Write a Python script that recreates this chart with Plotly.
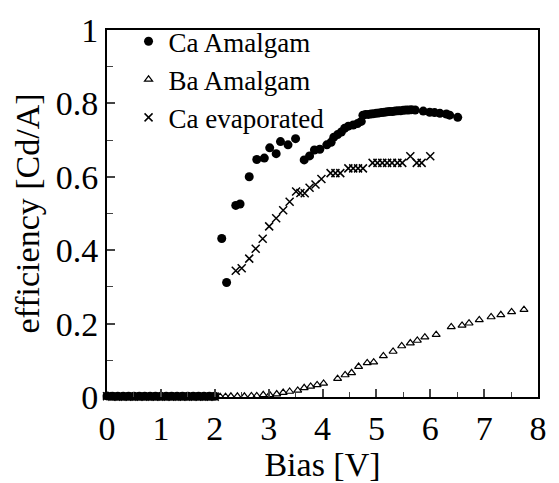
import plotly.graph_objects as go

# ---- data ----
ca_amalgam_x = [0.0, 0.1, 0.2, 0.3, 0.4, 0.5, 0.6, 0.7, 0.8, 0.9, 1.0, 1.1, 1.2, 1.3, 1.4, 1.5,
                1.6, 1.7, 1.8, 1.9, 2.0,
                2.13, 2.22, 2.39, 2.47, 2.64, 2.78, 2.92, 3.02, 3.14, 3.22, 3.36, 3.50,
                3.66, 3.76, 3.85, 3.95, 4.08, 4.16, 4.21, 4.28, 4.35, 4.41, 4.48, 4.57,
                4.65, 4.72, 4.75, 4.80, 4.85, 4.90, 4.95, 5.00, 5.05, 5.10, 5.15, 5.20,
                5.25, 5.30, 5.35, 5.40, 5.45, 5.50, 5.55, 5.60, 5.65, 5.72, 5.87, 5.99,
                6.08, 6.18, 6.30, 6.36, 6.51]
ca_amalgam_y = [0.003, 0.002, 0.002, 0.002, 0.002, 0.002, 0.002, 0.002, 0.002, 0.002, 0.002,
                0.002, 0.002, 0.002, 0.002, 0.002, 0.002, 0.002, 0.002, 0.002, 0.002,
                0.432, 0.312, 0.522, 0.526, 0.600, 0.647, 0.651, 0.679, 0.663, 0.696, 0.687,
                0.704, 0.646, 0.657, 0.673, 0.675, 0.687, 0.694, 0.708, 0.715, 0.722, 0.732,
                0.738, 0.741, 0.745, 0.751, 0.768, 0.770, 0.770, 0.771, 0.772, 0.773, 0.774,
                0.775, 0.776, 0.777, 0.778, 0.778, 0.779, 0.780, 0.780, 0.781, 0.782, 0.782,
                0.783, 0.782, 0.779, 0.776, 0.775, 0.773, 0.771, 0.768, 0.762]

ba_amalgam_x = [0.0, 0.1, 0.2, 0.3, 0.4, 0.5, 0.6, 0.7, 0.8, 0.9, 1.0, 1.1, 1.2, 1.3, 1.4, 1.5,
                1.6, 1.7, 1.8, 1.9, 2.0, 2.1, 2.2, 2.3, 2.42, 2.55, 2.68,
                2.78, 2.90, 3.02, 3.15, 3.27, 3.39, 3.54, 3.66, 3.78, 3.90, 4.02, 4.28,
                4.42, 4.54, 4.67, 4.83, 4.95, 5.13, 5.31, 5.47, 5.63, 5.76, 5.90, 6.11,
                6.39, 6.59, 6.72, 6.91, 7.13, 7.31, 7.51, 7.74]
ba_amalgam_y = [0.001, 0.001, 0.001, 0.001, 0.001, 0.001, 0.001, 0.001, 0.001, 0.001, 0.001,
                0.001, 0.001, 0.001, 0.001, 0.001, 0.001, 0.001, 0.001, 0.001, 0.001, 0.001,
                0.001, 0.002, 0.002, 0.002, 0.003,
                0.003, 0.006, 0.006, 0.008, 0.012, 0.015, 0.018, 0.025, 0.029, 0.033, 0.037,
                0.050, 0.060, 0.066, 0.083, 0.093, 0.095, 0.112, 0.124, 0.139, 0.147, 0.154,
                0.163, 0.170, 0.191, 0.195, 0.201, 0.210, 0.218, 0.224, 0.232, 0.238]

ca_evap_x = [0.0, 0.1, 0.2, 0.3, 0.4, 0.5, 0.6, 0.7, 0.8, 0.9, 1.0, 1.1, 1.2, 1.3, 1.4, 1.5,
             1.6, 1.7, 1.8, 1.9, 2.0,
             2.39, 2.50, 2.64, 2.76, 2.89, 3.01, 3.14, 3.27, 3.39, 3.51, 3.59, 3.67, 3.76,
             3.87, 3.98, 4.15, 4.24, 4.33, 4.48, 4.57, 4.66, 4.75, 4.93, 5.02, 5.11, 5.20,
             5.29, 5.39, 5.48, 5.63, 5.75, 5.84, 6.00]
ca_evap_y = [0.002, 0.001, 0.001, 0.001, 0.001, 0.001, 0.001, 0.001, 0.001, 0.001, 0.001,
             0.001, 0.001, 0.001, 0.001, 0.001, 0.001, 0.001, 0.001, 0.001, 0.001,
             0.344, 0.351, 0.377, 0.404, 0.431, 0.465, 0.487, 0.509, 0.532, 0.560, 0.556,
             0.555, 0.570, 0.579, 0.594, 0.610, 0.610, 0.610, 0.623, 0.623, 0.623, 0.623,
             0.638, 0.638, 0.638, 0.638, 0.638, 0.638, 0.638, 0.656, 0.638, 0.638, 0.656]

x_ticks = [0, 1, 2, 3, 4, 5, 6, 7, 8]
y_ticks = [0, 0.2, 0.4, 0.6, 0.8, 1]
y_tick_labels = ["0", "0.2", "0.4", "0.6", "0.8", "1"]

FONT = "Liberation Serif"

fig = go.Figure()
fig.add_trace(go.Scatter(
    x=ca_amalgam_x, y=ca_amalgam_y, mode="markers", name="Ca Amalgam",
    marker=dict(symbol="circle", size=9, color="black"), cliponaxis=False))
fig.add_trace(go.Scatter(
    x=ba_amalgam_x, y=ba_amalgam_y, mode="markers", name="Ba Amalgam",
    marker=dict(symbol="triangle-up-open", size=7, color="black", line=dict(width=1.2)),
    cliponaxis=False))
fig.add_trace(go.Scatter(
    x=ca_evap_x, y=ca_evap_y, mode="markers", name="Ca evaporated",
    marker=dict(symbol="x-thin-open", size=8, color="black", line=dict(width=1.5, color="black")),
    cliponaxis=False))

fig.update_layout(
    width=559, height=483,
    margin=dict(l=107, r=13, t=22, b=70),
    paper_bgcolor="white", plot_bgcolor="white",
    font=dict(family=FONT, color="black"),
    showlegend=True,
    legend=dict(x=0.05, y=1.035, xanchor="left", yanchor="top",
                font=dict(size=27, family=FONT), bgcolor="rgba(0,0,0,0)",
                tracegroupgap=0, itemwidth=30),
    xaxis=dict(range=[0, 8], tickvals=x_ticks, ticks="inside", ticklen=8, tickwidth=1.5,
               showline=True, linewidth=2, linecolor="black", mirror=True,
               showgrid=False, zeroline=False,
               tickfont=dict(size=34, family=FONT),
               minor=dict(ticks="inside", dtick=0.5, ticklen=5, tickwidth=1.2, showgrid=False),
               title=dict(text="Bias [V]", font=dict(size=34, family=FONT), standoff=0)),
    yaxis=dict(range=[0, 1], tickvals=y_ticks, ticktext=y_tick_labels, ticks="inside",
               ticklen=8, tickwidth=1.5,
               showline=True, linewidth=2, linecolor="black", mirror=True,
               showgrid=False, zeroline=False,
               tickfont=dict(size=34, family=FONT),
               minor=dict(ticks="inside", dtick=0.1, ticklen=6, tickwidth=1.2, showgrid=False),
               title=dict(text="efficiency [Cd/A]", font=dict(size=34, family=FONT), standoff=6)),
)

fig.write_html("out.html")
